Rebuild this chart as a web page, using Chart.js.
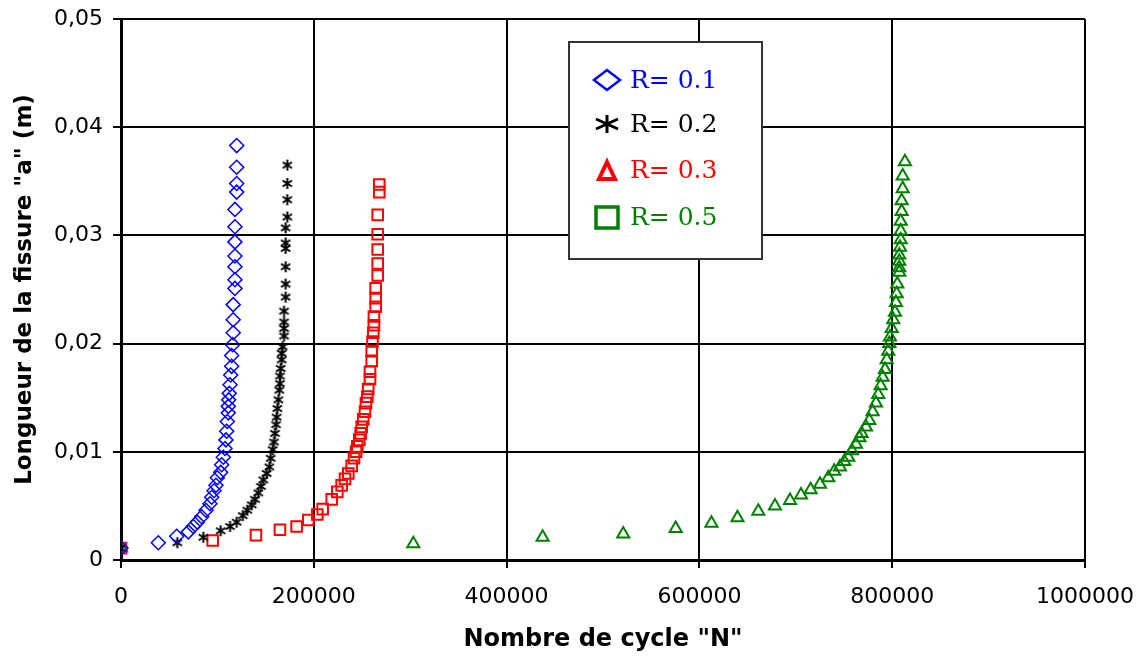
<!DOCTYPE html>
<html>
<head>
<meta charset="utf-8">
<script src="https://cdn.jsdelivr.net/npm/chart.js@4.4.1/dist/chart.umd.min.js"></script>
<style>
  html, body { margin: 0; padding: 0; background: #fff; }
</style>
</head>
<body>
<canvas id="fissure" width="1144" height="662"></canvas>
<script>
// nombre de cycles N et longueur de fissure a (m)
const nR01 = [0, 38700, 57800, 69800, 75000, 79100, 83700, 88200, 92300, 94100, 96500, 98500, 99900, 103400, 104400, 106100, 107900, 108900, 109600, 110300, 111300, 111300, 111700, 112300, 113100, 113800, 114800, 114800, 115800, 116400, 116400, 116400, 118200, 118200, 118200, 118200, 118200, 118200, 118200, 120000, 120000, 120000, 120000];
const aR01 = [0.0011, 0.0016, 0.0022, 0.0026, 0.0031, 0.0035, 0.0040, 0.0046, 0.0052, 0.0058, 0.0064, 0.0069, 0.0076, 0.0081, 0.0088, 0.0095, 0.0103, 0.0111, 0.0119, 0.0128, 0.0136, 0.0142, 0.0148, 0.0154, 0.0162, 0.0171, 0.0179, 0.0189, 0.0199, 0.0210, 0.0222, 0.0236, 0.0251, 0.0259, 0.0271, 0.0281, 0.0294, 0.0308, 0.0324, 0.0340, 0.0348, 0.0363, 0.0383];

const nR02 = [0, 58400, 85400, 103400, 113100, 120000, 126300, 131000, 135600, 139000, 142400, 145200, 147600, 151100, 153800, 155300, 157400, 158700, 159700, 160800, 161500, 162200, 163200, 164200, 164900, 164900, 165700, 166700, 166700, 167700, 169100, 169100, 169100, 169100, 170800, 170800, 170800, 170800, 170800, 170800, 172500, 172500, 172500, 172500];
const aR02 = [0.0011, 0.0016, 0.0021, 0.0027, 0.0031, 0.0035, 0.0041, 0.0046, 0.0051, 0.0056, 0.0062, 0.0068, 0.0074, 0.0080, 0.0086, 0.0094, 0.0102, 0.0109, 0.0117, 0.0125, 0.0132, 0.0140, 0.0148, 0.0157, 0.0163, 0.0170, 0.0177, 0.0185, 0.0191, 0.0197, 0.0207, 0.0214, 0.0220, 0.0230, 0.0243, 0.0255, 0.0271, 0.0288, 0.0293, 0.0307, 0.0317, 0.0333, 0.0348, 0.0365];

const nR03 = [0, 95100, 140000, 164900, 182200, 194300, 203600, 209200, 218600, 224400, 228900, 232400, 235800, 239300, 241700, 243800, 245100, 247200, 248600, 249700, 251300, 253100, 254100, 255500, 256500, 258300, 258300, 260100, 260100, 260900, 261700, 262400, 262400, 264200, 264200, 264200, 266300, 266300, 266300, 266300, 266300, 267900, 267900];
const aR03 = [0.0011, 0.0018, 0.0023, 0.0028, 0.0031, 0.0037, 0.0042, 0.0047, 0.0056, 0.0063, 0.0069, 0.0075, 0.0080, 0.0087, 0.0094, 0.0100, 0.0105, 0.0111, 0.0117, 0.0123, 0.0130, 0.0137, 0.0145, 0.0151, 0.0158, 0.0167, 0.0174, 0.0184, 0.0193, 0.0202, 0.0210, 0.0217, 0.0225, 0.0234, 0.0242, 0.0251, 0.0263, 0.0274, 0.0287, 0.0301, 0.0319, 0.0340, 0.0347];

const nR05 = [0, 303200, 437400, 521000, 575400, 612500, 639500, 661100, 678400, 694000, 705400, 715400, 725100, 733700, 739900, 745800, 750300, 754400, 758300, 762400, 766000, 768300, 772800, 776200, 779700, 783200, 785500, 788000, 790100, 792500, 794300, 795900, 797000, 797700, 799500, 801100, 802900, 803900, 804600, 805300, 807300, 807300, 807300, 807300, 808100, 808800, 808800, 808800, 809800, 809800, 810900, 810900, 813200];
const aR05 = [0.0011, 0.0015, 0.0021, 0.0024, 0.0029, 0.0034, 0.0039, 0.0045, 0.0050, 0.0055, 0.0060, 0.0065, 0.0070, 0.0076, 0.0082, 0.0086, 0.0091, 0.0095, 0.0101, 0.0107, 0.0113, 0.0117, 0.0123, 0.0129, 0.0137, 0.0145, 0.0153, 0.0161, 0.0169, 0.0176, 0.0185, 0.0193, 0.0200, 0.0206, 0.0214, 0.0222, 0.0229, 0.0238, 0.0246, 0.0255, 0.0266, 0.0270, 0.0276, 0.0282, 0.0289, 0.0296, 0.0304, 0.0313, 0.0322, 0.0332, 0.0343, 0.0355, 0.0368];

const seriesLabels = ["R= 0.1", "R= 0.2", "R= 0.3", "R= 0.5"];
const seriesColors = ["#0000ff", "#000000", "#ff0000", "#008000"];
const xTicks = [0, 200000, 400000, 600000, 800000, 1000000];
const xTickLabels = ["0", "200000", "400000", "600000", "800000", "1000000"];
const yTicks = [0, 0.01, 0.02, 0.03, 0.04, 0.05];
const yTickLabels = ["0", "0,01", "0,02", "0,03", "0,04", "0,05"];

function pts(ns, as) {
  return ns.map((n, i) => ({ x: n, y: as[i] }));
}

// asterisque a 6 branches pour R = 0.2
function starMarker(size, lw) {
  const c = document.createElement("canvas");
  c.width = size; c.height = size;
  const g = c.getContext("2d");
  const m = size / 2, r = size / 2 - 1;
  g.strokeStyle = "#000";
  g.lineWidth = lw;
  g.beginPath();
  g.moveTo(m, m - r); g.lineTo(m, m + r);
  g.moveTo(m - r * 0.85, m - r * 0.55); g.lineTo(m + r * 0.85, m + r * 0.55);
  g.moveTo(m - r * 0.85, m + r * 0.55); g.lineTo(m + r * 0.85, m - r * 0.55);
  g.stroke();
  return c;
}

// legende encadree (les symboles de la legende sont ceux de la figure d'origine)
const legendBox = {
  id: "legendBox",
  afterDraw(chart) {
    const ctx = chart.ctx;
    const ca = chart.chartArea;
    const bx = ca.left + 448, by = ca.top + 23, bw = 193, bh = 217;
    ctx.save();
    ctx.fillStyle = "#fff";
    ctx.fillRect(bx, by, bw, bh);
    ctx.strokeStyle = "#333";
    ctx.lineWidth = 2;
    ctx.strokeRect(bx, by, bw, bh);

    const mx = bx + 38;
    const rows = [by + 38, by + 82, by + 128, by + 175];
    ctx.lineJoin = "miter";
    // losange
    ctx.strokeStyle = seriesColors[0];
    ctx.lineWidth = 2.5;
    ctx.beginPath();
    ctx.moveTo(mx - 13, rows[0]); ctx.lineTo(mx, rows[0] - 10);
    ctx.lineTo(mx + 13, rows[0]); ctx.lineTo(mx, rows[0] + 10);
    ctx.closePath(); ctx.stroke();
    // asterisque
    ctx.strokeStyle = seriesColors[1];
    ctx.lineWidth = 3;
    ctx.beginPath();
    ctx.moveTo(mx, rows[1] - 9); ctx.lineTo(mx, rows[1] + 9);
    ctx.moveTo(mx - 11, rows[1] - 5); ctx.lineTo(mx + 11, rows[1] + 5);
    ctx.moveTo(mx - 11, rows[1] + 5); ctx.lineTo(mx + 11, rows[1] - 5);
    ctx.stroke();
    // triangle
    ctx.strokeStyle = seriesColors[2];
    ctx.lineWidth = 4;
    ctx.beginPath();
    ctx.moveTo(mx, rows[2] - 8); ctx.lineTo(mx + 8, rows[2] + 9);
    ctx.lineTo(mx - 8, rows[2] + 9); ctx.closePath(); ctx.stroke();
    // carre
    ctx.strokeStyle = seriesColors[3];
    ctx.lineWidth = 3.5;
    ctx.strokeRect(mx - 11, rows[3] - 10, 22, 21);

    ctx.font = "25px 'DejaVu Serif'";
    ctx.textBaseline = "middle";
    ctx.textAlign = "left";
    seriesLabels.forEach((t, i) => {
      ctx.fillStyle = seriesColors[i];
      ctx.fillText(t, bx + 61, rows[i] + 1);
    });
    ctx.restore();
  }
};

const ctx = document.getElementById("fissure");

new Chart(ctx, {
  type: "scatter",
  data: {
    datasets: [
      {
        label: seriesLabels[0],
        data: pts(nR01, aR01),
        pointStyle: "rectRot",
        pointRadius: 7,
        borderWidth: 1.5,
        borderColor: seriesColors[0],
        backgroundColor: "rgba(0,0,0,0)",
      },
      {
        label: seriesLabels[1],
        data: pts(nR02, aR02),
        pointStyle: starMarker(13, 2),
        pointRadius: 6,
        borderColor: seriesColors[1],
        backgroundColor: "rgba(0,0,0,0)",
      },
      {
        label: seriesLabels[2],
        data: pts(nR03, aR03),
        pointStyle: "rect",
        pointRadius: 7.5,
        borderWidth: 2,
        borderColor: seriesColors[2],
        backgroundColor: "rgba(0,0,0,0)",
      },
      {
        label: seriesLabels[3],
        data: pts(nR05, aR05),
        pointStyle: "triangle",
        pointRadius: 7,
        borderWidth: 2,
        borderColor: seriesColors[3],
        backgroundColor: "rgba(0,0,0,0)",
      },
    ],
  },
  options: {
    responsive: false,
    animation: false,
    layout: { padding: { left: 0, top: 19, right: 59, bottom: 0 } },
    scales: {
      x: {
        type: "linear",
        min: 0,
        max: 1000000,
        afterBuildTicks: (scale) => { scale.ticks = xTicks.map(v => ({ value: v })); },
        afterFit: (scale) => {
          scale.height = 102;
          scale.paddingLeft = 0;
          scale.paddingRight = 0;
        },
        ticks: {
          callback: (v, i) => xTickLabels[i],
          color: "#000",
          padding: 16,
          maxRotation: 0,
          font: { family: "'DejaVu Sans'", size: 22 },
        },
        grid: { color: "#000", lineWidth: 2, tickLength: 8, tickColor: "#000", tickWidth: 2 },
        border: { color: "#000", width: 3 },
        title: {
          display: true,
          text: 'Nombre de cycle "N"',
          color: "#000",
          padding: { top: 0, bottom: 8 },
          font: { family: "'DejaVu Sans'", size: 24, weight: "bold" },
        },
      },
      y: {
        type: "linear",
        min: 0,
        max: 0.05,
        afterBuildTicks: (scale) => { scale.ticks = yTicks.map(v => ({ value: v })); },
        afterFit: (scale) => {
          scale.width = 121;
          scale.paddingTop = 0;
          scale.paddingBottom = 0;
        },
        ticks: {
          callback: (v, i) => yTickLabels[i],
          color: "#000",
          padding: 10,
          font: { family: "'DejaVu Sans'", size: 22 },
        },
        grid: { color: "#000", lineWidth: 2, tickLength: 8, tickColor: "#000", tickWidth: 2 },
        border: { color: "#000", width: 3 },
        title: {
          display: true,
          text: 'Longueur de la fissure "a" (m)',
          color: "#000",
          padding: { top: 11, bottom: 0 },
          font: { family: "'DejaVu Sans'", size: 23, weight: "bold" },
        },
      },
    },
    plugins: {
      legend: { display: false },
      tooltip: { enabled: false },
    },
  },
  plugins: [legendBox],
});
</script>
</body>
</html>
